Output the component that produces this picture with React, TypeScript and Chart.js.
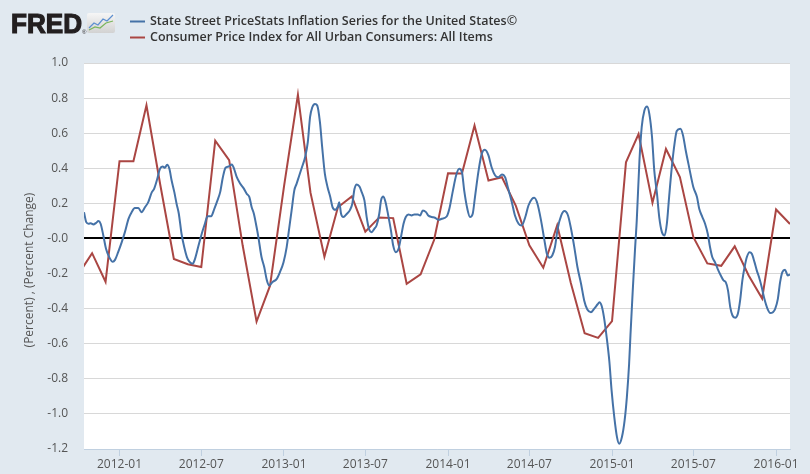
import { useEffect, useRef } from "react";
import { Chart, registerables } from "chart.js";

Chart.register(...registerables);

// ---------- data ----------
const X_START = "2011-10-14";
const X_END = "2016-02-01";
const X_TICK_LABELS = ["2012-01", "2012-07", "2013-01", "2013-07", "2014-01", "2014-07", "2015-01", "2015-07", "2016-01"];
const Y_TICK_VALUES = [-1.2, -1.0, -0.8, -0.6, -0.4, -0.2, 0, 0.2, 0.4, 0.6, 0.8, 1.0];
const Y_TICK_LABELS = ["-1.2", "-1.0", "-0.8", "-0.6", "-0.4", "-0.2", "-0.0", "0.2", "0.4", "0.6", "0.8", "1.0"];
const Y_TITLE = "(Percent) , (Percent Change)";

const SERIES_NAMES = [
  "State Street PriceStats Inflation Series for the United States©",
  "Consumer Price Index for All Urban Consumers: All Items",
];

const CPI_MONTHS = [
  "2011-10", "2011-11", "2011-12",
  "2012-01", "2012-02", "2012-03", "2012-04", "2012-05", "2012-06", "2012-07", "2012-08", "2012-09", "2012-10", "2012-11", "2012-12",
  "2013-01", "2013-02", "2013-03", "2013-04", "2013-05", "2013-06", "2013-07", "2013-08", "2013-09", "2013-10", "2013-11", "2013-12",
  "2014-01", "2014-02", "2014-03", "2014-04", "2014-05", "2014-06", "2014-07", "2014-08", "2014-09", "2014-10", "2014-11", "2014-12",
  "2015-01", "2015-02", "2015-03", "2015-04", "2015-05", "2015-06", "2015-07", "2015-08", "2015-09", "2015-10", "2015-11", "2015-12",
  "2016-01", "2016-02",
];
const CPI_VALUES = [
  -0.206, -0.084, -0.247,
  0.44, 0.44, 0.759, 0.302, -0.117, -0.147, -0.163, 0.557, 0.446, -0.039, -0.474, -0.269,
  0.296, 0.819, 0.261, -0.104, 0.178, 0.24, 0.039, 0.12, 0.116, -0.258, -0.204, -0.009,
  0.372, 0.37, 0.644, 0.33, 0.349, 0.186, -0.039, -0.167, 0.075, -0.251, -0.54, -0.567,
  -0.471, 0.434, 0.595, 0.203, 0.51, 0.35, 0.007, -0.142, -0.156, -0.045, -0.211, -0.342,
  0.165, 0.082,
];

const PS_DATES = [
  "2011-10-14", "2011-10-19", "2011-10-24", "2011-10-29", "2011-11-04", "2011-11-10", "2011-11-15", "2011-11-20", "2011-11-26",
  "2011-12-02", "2011-12-09", "2011-12-17", "2011-12-22", "2011-12-29",
  "2012-01-06", "2012-01-13", "2012-01-21", "2012-01-28", "2012-02-04", "2012-02-12", "2012-02-19", "2012-02-27",
  "2012-03-05", "2012-03-13", "2012-03-18", "2012-03-24", "2012-03-31", "2012-04-06", "2012-04-11", "2012-04-16", "2012-04-21", "2012-04-26",
  "2012-05-02", "2012-05-07", "2012-05-12", "2012-05-18", "2012-05-24", "2012-05-30", "2012-06-04", "2012-06-12", "2012-06-17", "2012-06-24",
  "2012-07-02", "2012-07-09", "2012-07-15", "2012-07-23", "2012-07-30", "2012-08-06", "2012-08-12", "2012-08-18", "2012-08-24", "2012-08-31",
  "2012-09-07", "2012-09-12", "2012-09-18", "2012-09-25", "2012-10-03", "2012-10-10", "2012-10-16", "2012-10-21", "2012-10-26",
  "2012-11-01", "2012-11-05", "2012-11-12", "2012-11-18", "2012-11-24", "2012-11-29", "2012-12-06", "2012-12-16", "2012-12-23", "2012-12-31",
  "2013-01-07", "2013-01-12", "2013-01-18", "2013-01-24", "2013-01-29", "2013-02-04", "2013-02-10", "2013-02-17", "2013-02-23", "2013-02-28",
  "2013-03-05", "2013-03-11", "2013-03-16", "2013-03-22", "2013-03-27", "2013-04-02", "2013-04-08", "2013-04-14", "2013-04-19", "2013-04-25",
  "2013-05-01", "2013-05-04", "2013-05-08", "2013-05-13", "2013-05-21", "2013-05-28", "2013-06-02", "2013-06-07", "2013-06-12", "2013-06-18",
  "2013-06-23", "2013-06-29", "2013-07-04", "2013-07-09", "2013-07-15", "2013-07-21", "2013-07-26", "2013-08-01", "2013-08-05", "2013-08-10",
  "2013-08-15", "2013-08-21", "2013-08-27", "2013-09-01", "2013-09-07", "2013-09-13", "2013-09-19", "2013-09-24", "2013-09-29",
  "2013-10-05", "2013-10-12", "2013-10-18", "2013-10-26", "2013-10-31", "2013-11-06", "2013-11-13", "2013-11-18", "2013-11-26",
  "2013-12-03", "2013-12-11", "2013-12-18", "2013-12-29",
  "2014-01-04", "2014-01-12", "2014-01-19", "2014-01-26", "2014-02-01", "2014-02-06", "2014-02-13", "2014-02-19", "2014-02-25",
  "2014-03-02", "2014-03-10", "2014-03-17", "2014-03-24", "2014-04-01", "2014-04-08", "2014-04-16", "2014-04-23",
  "2014-05-01", "2014-05-08", "2014-05-15", "2014-05-23", "2014-05-30", "2014-06-07", "2014-06-14", "2014-06-22", "2014-06-29",
  "2014-07-07", "2014-07-12", "2014-07-19", "2014-07-27", "2014-08-03", "2014-08-09", "2014-08-15", "2014-08-21", "2014-08-27",
  "2014-09-02", "2014-09-10", "2014-09-17", "2014-09-25", "2014-10-01", "2014-10-09", "2014-10-16", "2014-10-24", "2014-10-31",
  "2014-11-07", "2014-11-15", "2014-11-22", "2014-11-30", "2014-12-04", "2014-12-09", "2014-12-14", "2014-12-20", "2014-12-26", "2014-12-31",
  "2015-01-06", "2015-01-12", "2015-01-17", "2015-01-23", "2015-01-29", "2015-02-03", "2015-02-08", "2015-02-11", "2015-02-16", "2015-02-21", "2015-02-25",
  "2015-03-03", "2015-03-08", "2015-03-14", "2015-03-20", "2015-03-25", "2015-03-31", "2015-04-05", "2015-04-11", "2015-04-16", "2015-04-22", "2015-04-28",
  "2015-05-03", "2015-05-08", "2015-05-14", "2015-05-20", "2015-05-25", "2015-06-02", "2015-06-08", "2015-06-14", "2015-06-20", "2015-06-26",
  "2015-07-01", "2015-07-09", "2015-07-14", "2015-07-21", "2015-07-27", "2015-08-02", "2015-08-07", "2015-08-12", "2015-08-18", "2015-08-24", "2015-08-31",
  "2015-09-06", "2015-09-11", "2015-09-16", "2015-09-21", "2015-09-26", "2015-10-02", "2015-10-08", "2015-10-13", "2015-10-18", "2015-10-23", "2015-10-28",
  "2015-11-03", "2015-11-08", "2015-11-14", "2015-11-19", "2015-11-24", "2015-11-30", "2015-12-06", "2015-12-13", "2015-12-19", "2015-12-25", "2015-12-30",
  "2016-01-05", "2016-01-10", "2016-01-15", "2016-01-21", "2016-01-27", "2016-02-01",
];
const PS_VALUES = [
  0.15, 0.093, 0.084, 0.087, 0.08, 0.089, 0.099, 0.084, 0.017,
  -0.059, -0.106, -0.133, -0.122, -0.078,
  -0.021, 0.036, 0.112, 0.15, 0.173, 0.173, 0.15, 0.179,
  0.207, 0.264, 0.283, 0.33, 0.397, 0.41, 0.403, 0.42, 0.397, 0.33,
  0.264, 0.198, 0.141, 0.027, -0.049, -0.106, -0.131, -0.144, -0.116, -0.049,
  0.027, 0.084, 0.127, 0.127, 0.169, 0.217, 0.264, 0.349, 0.403, 0.41,
  0.422, 0.397, 0.349, 0.315, 0.287, 0.255, 0.236, 0.179, 0.141,
  0.065, 0.008, -0.106, -0.163, -0.239, -0.268, -0.249, -0.23, -0.192, -0.135,
  -0.049, 0.046, 0.16, 0.274, 0.311, 0.359, 0.406, 0.463, 0.549, 0.691,
  0.748, 0.767, 0.758, 0.663, 0.52, 0.368, 0.292, 0.236, 0.179, 0.163,
  0.182, 0.207, 0.141, 0.122, 0.141, 0.163, 0.198, 0.283, 0.308, 0.296,
  0.264, 0.217, 0.122, 0.055, 0.036, 0.055, 0.074, 0.141, 0.217, 0.239,
  0.207, 0.131, 0.046, -0.04, -0.078, -0.059, 0.017, 0.084, 0.122,
  0.137, 0.131, 0.137, 0.137, 0.131, 0.16, 0.15, 0.131, 0.122,
  0.118, 0.106, 0.112, 0.125,
  0.169, 0.274, 0.359, 0.397, 0.378, 0.274, 0.169, 0.122, 0.141,
  0.236, 0.387, 0.482, 0.505, 0.473, 0.406, 0.359, 0.349,
  0.365, 0.349, 0.283, 0.207, 0.131, 0.084, 0.074, 0.122, 0.188,
  0.226, 0.232, 0.198, 0.103, -0.002, -0.087, -0.11, -0.097, -0.049,
  0.055, 0.131, 0.156, 0.131, 0.065, -0.049, -0.163, -0.258, -0.353,
  -0.405, -0.42, -0.401, -0.375, -0.363, -0.385, -0.448, -0.562, -0.7, -0.866,
  -1.018, -1.132, -1.17, -1.132, -1.037, -0.904, -0.714, -0.55, -0.3, -0.068, 0.103,
  0.444, 0.634, 0.729, 0.752, 0.71, 0.577, 0.387, 0.255, 0.122, 0.036, 0.017,
  0.084, 0.236, 0.406, 0.539, 0.612, 0.625, 0.587, 0.501, 0.425, 0.349,
  0.292, 0.236, 0.169, 0.122, 0.084, 0.027, -0.049, -0.106, -0.135, -0.173, -0.211,
  -0.239, -0.249, -0.296, -0.391, -0.439, -0.452, -0.429, -0.353, -0.239, -0.163, -0.106,
  -0.078, -0.087, -0.135, -0.182, -0.22, -0.277, -0.344, -0.401, -0.425, -0.42, -0.401,
  -0.344, -0.249, -0.192, -0.179, -0.211, -0.205,
];

// ---------- helpers ----------
const dayNum = (s: string) => {
  const [y, m, d] = s.split("-").map(Number);
  return (Date.UTC(y, m - 1, d || 1) - Date.UTC(2012, 0, 1)) / 86400000;
};

const BLUE = "#4572a7";
const RED = "#aa4643";
const BG = "#e1e9f0";
const TEXT = "#555555";
const FONT = "'Open Sans', 'DejaVu Sans', sans-serif";

const decorPlugin = {
  id: "fredDecor",
  beforeDraw(chart: any) {
    const { ctx, chartArea } = chart;
    ctx.save();
    ctx.fillStyle = BG;
    ctx.fillRect(0, 0, chart.width, chart.height);
    ctx.fillStyle = "#ffffff";
    ctx.fillRect(chartArea.left, chartArea.top, chartArea.right - chartArea.left, chartArea.bottom - chartArea.top);
    ctx.restore();
  },
  afterDraw(chart: any) {
    const { ctx, chartArea } = chart;
    ctx.save();
    // FRED logo text
    ctx.fillStyle = "#231f20";
    ctx.strokeStyle = "#231f20";
    ctx.font = "bold 27px 'Liberation Sans', Arial, sans-serif";
    ctx.textBaseline = "alphabetic";
    ctx.textAlign = "left";
    const w = ctx.measureText("FRED").width;
    ctx.save();
    ctx.translate(11, 33);
    ctx.scale(71 / w, 1);
    ctx.lineWidth = 1.2;
    ctx.fillText("FRED", 0, 0);
    ctx.strokeText("FRED", 0, 0);
    ctx.restore();
    ctx.font = "6px 'Liberation Sans', sans-serif";
    ctx.fillText("®", 82, 34);
    // icon
    const ix = 87, iy = 13, iw = 28, ih = 20;
    const g = ctx.createLinearGradient(0, iy, 0, iy + ih);
    g.addColorStop(0, "#f6f6f6");
    g.addColorStop(1, "#d2d2d2");
    ctx.fillStyle = g;
    ctx.beginPath();
    ctx.moveTo(ix + 2, iy);
    ctx.lineTo(ix + iw - 2, iy);
    ctx.quadraticCurveTo(ix + iw, iy, ix + iw, iy + 2);
    ctx.lineTo(ix + iw, iy + ih - 2);
    ctx.quadraticCurveTo(ix + iw, iy + ih, ix + iw - 2, iy + ih);
    ctx.lineTo(ix + 2, iy + ih);
    ctx.quadraticCurveTo(ix, iy + ih, ix, iy + ih - 2);
    ctx.lineTo(ix, iy + 2);
    ctx.quadraticCurveTo(ix, iy, ix + 2, iy);
    ctx.fill();
    ctx.lineWidth = 1.2;
    ctx.strokeStyle = "#5b8fd0";
    ctx.beginPath();
    ctx.moveTo(ix + 2, iy + 15);
    ctx.lineTo(ix + 7, iy + 10);
    ctx.lineTo(ix + 11, iy + 12);
    ctx.lineTo(ix + 16, iy + 6);
    ctx.lineTo(ix + 20, iy + 8);
    ctx.lineTo(ix + 26, iy + 2);
    ctx.stroke();
    ctx.strokeStyle = "#7ab55c";
    ctx.beginPath();
    ctx.moveTo(ix + 2, iy + 17);
    ctx.lineTo(ix + 8, iy + 14);
    ctx.lineTo(ix + 13, iy + 15);
    ctx.lineTo(ix + 19, iy + 10);
    ctx.lineTo(ix + 26, iy + 8);
    ctx.stroke();

    // legend
    const items = [
      { color: BLUE, label: SERIES_NAMES[0], y: 21.5 },
      { color: RED, label: SERIES_NAMES[1], y: 37.5 },
    ];
    ctx.font = `600 12.5px ${FONT}`;
    ctx.textBaseline = "middle";
    for (const it of items) {
      ctx.strokeStyle = it.color;
      ctx.lineWidth = 2;
      ctx.beginPath();
      ctx.moveTo(130, it.y);
      ctx.lineTo(145, it.y);
      ctx.stroke();
      ctx.fillStyle = "#333333";
      ctx.fillText(it.label, 150, it.y);
    }

    // y-axis title
    ctx.fillStyle = TEXT;
    ctx.font = `12px ${FONT}`;
    ctx.textAlign = "center";
    ctx.textBaseline = "middle";
    ctx.translate(30, (chartArea.top + chartArea.bottom) / 2 + 14);
    ctx.rotate(-Math.PI / 2);
    ctx.fillText(Y_TITLE, 0, 0);
    ctx.restore();
  },
};

export default function App() {
  const ref = useRef<HTMLCanvasElement | null>(null);

  useEffect(() => {
    document.body.style.margin = "0";
    const canvas = ref.current;
    if (!canvas) return;

    const cpiData = CPI_MONTHS.map((m, i) => ({ x: dayNum(m), y: CPI_VALUES[i] }));
    const psData = PS_DATES.map((d, i) => ({ x: dayNum(d), y: PS_VALUES[i] }));

    const chart = new Chart(canvas, {
      type: "line",
      data: {
        datasets: [
          {
            label: SERIES_NAMES[0],
            data: psData,
            borderColor: BLUE,
            backgroundColor: BLUE,
            borderWidth: 2,
            pointRadius: 0,
            cubicInterpolationMode: "monotone",
            fill: false,
          },
          {
            label: SERIES_NAMES[1],
            data: cpiData,
            borderColor: RED,
            backgroundColor: RED,
            borderWidth: 2,
            pointRadius: 0,
            tension: 0,
            fill: false,
          },
        ],
      },
      options: {
        animation: false,
        responsive: false,
        devicePixelRatio: 1,
        layout: { padding: { top: 63, right: 20, left: 0, bottom: 0 } },
        plugins: {
          legend: { display: false },
          tooltip: { enabled: false },
          title: { display: false },
        },
        scales: {
          x: {
            type: "linear",
            min: dayNum(X_START),
            max: dayNum(X_END),
            afterBuildTicks: (s: any) => {
              s.ticks = X_TICK_LABELS.map((l) => ({ value: dayNum(l) }));
            },
            afterFit: (s: any) => {
              s.height = 25;
            },
            ticks: {
              autoSkip: false,
              maxRotation: 0,
              padding: 1,
              color: TEXT,
              font: { family: FONT, size: 12 },
              callback: (_v: any, i: number) => X_TICK_LABELS[i],
            },
            grid: {
              drawOnChartArea: false,
              drawTicks: true,
              tickLength: 7,
              color: "#c0d0e0",
            },
            border: { display: true, color: "#c0d0e0", width: 1 },
          },
          y: {
            type: "linear",
            min: -1.2,
            max: 1.0,
            afterBuildTicks: (s: any) => {
              s.ticks = Y_TICK_VALUES.map((v) => ({ value: v }));
            },
            afterFit: (s: any) => {
              s.width = 84;
            },
            ticks: {
              padding: 16,
              color: TEXT,
              font: { family: FONT, size: 12 },
              callback: (_v: any, i: number) => Y_TICK_LABELS[i],
            },
            grid: {
              drawTicks: false,
              color: (c: any) => (c.tick && Math.abs(c.tick.value) < 1e-9 ? "#000000" : "#d8d8d8"),
              lineWidth: (c: any) => (c.tick && Math.abs(c.tick.value) < 1e-9 ? 2 : 1),
            },
            border: { display: false },
          },
        },
      },
      plugins: [decorPlugin],
    } as any);

    return () => chart.destroy();
  }, []);

  return (
    <div style={{ width: 810, height: 474, position: "relative" }}>
      <canvas ref={ref} width={810} height={474} style={{ display: "block", width: 810, height: 474 }} />
    </div>
  );
}
